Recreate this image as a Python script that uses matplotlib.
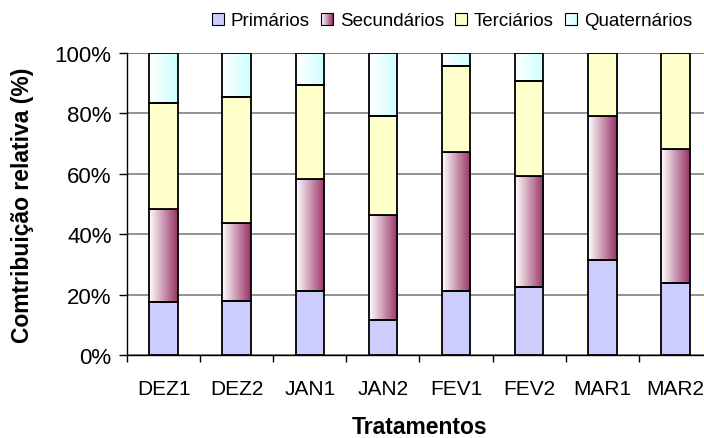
import numpy as np
import matplotlib.pyplot as plt
from matplotlib.patches import Rectangle
from matplotlib.colors import LinearSegmentedColormap
from matplotlib.legend_handler import HandlerBase

plt.rcParams['font.family'] = ['Liberation Sans', 'DejaVu Sans']

# %% Data (shares, %)
tratamentos = ["DEZ1", "DEZ2", "JAN1", "JAN2", "FEV1", "FEV2", "MAR1", "MAR2"]
primarios = [17.4, 18.0, 21.3, 11.6, 21.3, 22.4, 31.5, 23.9]
secundarios = [31.0, 25.8, 36.9, 34.8, 46.0, 37.0, 47.6, 44.4]
terciarios = [35.0, 41.7, 31.1, 32.8, 28.3, 31.4, 20.9, 31.7]
quaternarios = [16.6, 14.5, 10.7, 20.8, 4.4, 9.2, 0.0, 0.0]

series = ["Primários", "Secundários", "Terciários", "Quaternários"]
cores = ["#CCCCFF", "#993366", "#FFFFCC", "#CCFFFF"]
gradiente = [False, True, False, True]

# %% Figure
fig = plt.figure(figsize=(7.04, 4.39), dpi=100)
ax = fig.add_axes([127 / 704, 1 - 356 / 439, (712 - 127) / 704, (356 - 54) / 439])

x = np.arange(len(tratamentos)) + 0.5
largura = 0.39
dados = [primarios, secundarios, terciarios, quaternarios]
base = np.zeros(len(tratamentos))

for vals, cor, grad in zip(dados, cores, gradiente):
    vals = np.array(vals)
    if grad:
        cmap = LinearSegmentedColormap.from_list("g", ["white", cor])
        img = np.linspace(0, 1, 64).reshape(1, -1)
        for xi, b, v in zip(x, base, vals):
            if v <= 0:
                continue
            ax.imshow(img, cmap=cmap, aspect="auto", interpolation="bilinear",
                      extent=(xi - largura / 2, xi + largura / 2, b, b + v), zorder=2)
        ax.bar(x, vals, largura, bottom=base, facecolor="none",
               edgecolor="black", linewidth=1.3, zorder=3)
    else:
        ax.bar(x, vals, largura, bottom=base, color=cor,
               edgecolor="black", linewidth=1.3, zorder=3)
    base = base + vals

ax.set_xlim(0, len(tratamentos))
ax.set_ylim(0, 100)
ax.set_yticks(np.arange(0, 101, 20))
ax.set_yticklabels([f"{v}%" for v in range(0, 101, 20)], fontsize=16)
ax.set_xticks(x)
ax.set_xticklabels(tratamentos, fontsize=15)
ax.set_xticks(np.arange(0, len(tratamentos) + 1), minor=True)
ax.tick_params(axis="x", which="major", length=0, pad=17)
ax.tick_params(axis="x", which="minor", length=5, width=1, direction="out")
ax.tick_params(axis="y", length=6, width=1, direction="out", pad=5)
ax.yaxis.grid(True, color="#808080", linewidth=1.2, zorder=0)
ax.set_axisbelow(True)
for s in ["top", "right"]:
    ax.spines[s].set_visible(False)
ax.spines["left"].set_linewidth(1)
ax.spines["bottom"].set_linewidth(1)
ax.axhline(100, color="#808080", linewidth=1.5, zorder=1)

ax.set_ylabel("Comtribuição relativa (%)", fontsize=16.5, fontweight="bold")
ax.yaxis.set_label_coords((34 - 127) / 585, 0.5)
ax.set_xlabel("Tratamentos", fontsize=16.5, fontweight="bold")
ax.xaxis.set_label_coords(0.5, -(416 - 356) / 302)


# legend with gradient swatches
class HandlerGrad(HandlerBase):
    def __init__(self, cor):
        super().__init__()
        self.cor = cor

    def create_artists(self, legend, orig_handle, xdescent, ydescent, width, height, fontsize, trans):
        n = 12
        cmap = LinearSegmentedColormap.from_list("g", ["white", self.cor])
        arts = []
        for i in range(n):
            arts.append(Rectangle((-xdescent + i * width / n, -ydescent), width / n, height,
                                  facecolor=cmap(i / (n - 1)), edgecolor="none", transform=trans))
        arts.append(Rectangle((-xdescent, -ydescent), width, height, facecolor="none",
                              edgecolor="black", linewidth=0.8, transform=trans))
        return arts


handles = []
handler_map = {}
for nome, cor, grad in zip(series, cores, gradiente):
    h = Rectangle((0, 0), 1, 1, facecolor=cor, edgecolor="black", linewidth=0.8)
    handles.append(h)
    if grad:
        handler_map[h] = HandlerGrad(cor)

fig.legend(handles, series, handler_map=handler_map, loc="center",
           bbox_to_anchor=(452 / 704, 1 - 22 / 439), ncol=4, frameon=False, fontsize=13.5,
           handlelength=0.65, handleheight=0.65, handletextpad=0.35, columnspacing=0.6,
           borderpad=0)

fig.savefig("out.png", dpi=100)
